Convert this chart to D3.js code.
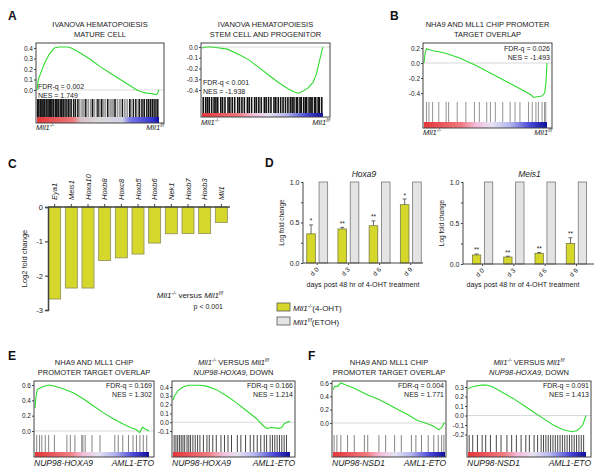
<!DOCTYPE html>
<html>
<head>
<meta charset="utf-8">
<script src="https://cdn.jsdelivr.net/npm/d3@7"></script>
<style>
  body { margin: 0; background: #fff; }
  svg { font-family: "Liberation Sans", Arial, sans-serif; }
</style>
</head>
<body>
<svg id="fig" width="602" height="475"></svg>
<script>
// ---- data ----

// panel C
const genes = ['Eya1', 'Meis1', 'Hoxa10', 'Hoxb8', 'Hoxc8', 'Hoxb5', 'Hoxb6', 'Nek1', 'Hoxb7', 'Hoxb3', 'Mll1'];
const log2fc = [-2.68, -2.36, -2.36, -1.56, -1.48, -1.37, -1.05, -0.78, -0.77, -0.77, -0.45];

// panel D
const days = ['d 0', 'd 3', 'd 6', 'd 9'];
const hoxa9KO = [0.36, 0.42, 0.46, 0.72];
const hoxa9Err = [0.11, 0.02, 0.06, 0.07];
const hoxa9Ctrl = [1, 1, 1, 1];
const hoxa9Stars = ['*', '**', '**', '*'];
const meis1KO = [0.11, 0.085, 0.13, 0.25];
const meis1Err = [0.012, 0.01, 0.01, 0.07];
const meis1Ctrl = [1, 1, 1, 1];
const meis1Stars = ['**', '**', '**', '**'];

// GSEA running enrichment scores: [rank fraction, ES]
const esMature = [[0,0],[0.011,0.1],[0.033,0.17],[0.06,0.25],[0.1,0.34],[0.141,0.4],[0.182,0.41],[0.249,0.41],
  [0.282,0.4],[0.358,0.35],[0.439,0.29],[0.52,0.22],[0.602,0.16],[0.683,0.1],[0.764,0.04],[0.818,0],
  [0.859,-0.02],[0.9,-0.03],[0.94,-0.035],[0.976,-0.045],[0.986,-0.035],[1,0]];
const esStem = [[0,-0.01],[0.033,0],[0.074,0],[0.114,-0.005],[0.21,-0.02],[0.305,-0.07],[0.387,-0.12],[0.469,-0.19],
  [0.55,-0.26],[0.632,-0.33],[0.714,-0.39],[0.768,-0.42],[0.8,-0.43],[0.837,-0.41],[0.877,-0.38],[0.918,-0.33],
  [0.946,-0.25],[0.973,-0.12],[0.992,-0.03],[1,0]];
const esNha9 = [[0,0],[0.008,0.12],[0.019,0.19],[0.041,0.18],[0.081,0.16],[0.122,0.15],[0.176,0.13],[0.23,0.1],
  [0.284,0.07],[0.338,0.03],[0.419,-0.03],[0.5,-0.1],[0.581,-0.17],[0.662,-0.24],[0.743,-0.31],[0.811,-0.37],
  [0.865,-0.42],[0.892,-0.46],[0.919,-0.45],[0.959,-0.44],[0.981,-0.4],[0.992,-0.25],[1,0]];
const esE1 = [[0,0.3],[0.009,0.45],[0.02,0.54],[0.044,0.56],[0.073,0.58],[0.117,0.6],[0.16,0.59],[0.204,0.57],
  [0.248,0.55],[0.335,0.5],[0.423,0.42],[0.51,0.33],[0.598,0.24],[0.685,0.16],[0.773,0.09],[0.845,0.04],
  [0.889,0.02],[0.918,-0.02],[0.942,0.05],[0.962,0.03],[0.977,0.02],[1,0]];
const esE2 = [[0,0.25],[0.014,0.3],[0.043,0.36],[0.086,0.4],[0.129,0.42],[0.229,0.42],[0.286,0.41],[0.371,0.37],
  [0.457,0.3],[0.543,0.22],[0.629,0.13],[0.714,0.04],[0.771,-0.04],[0.8,-0.07],[0.843,-0.06],[0.9,-0.07],
  [0.929,-0.06],[0.949,-0.02],[0.971,0],[1,0.01]];
const esF1 = [[0,0.5],[0.015,0.55],[0.039,0.55],[0.069,0.6],[0.1,0.58],[0.145,0.55],[0.19,0.52],[0.251,0.47],
  [0.311,0.42],[0.402,0.36],[0.492,0.28],[0.583,0.2],[0.674,0.12],[0.749,0.04],[0.825,0],[0.9,-0.05],
  [0.946,-0.1],[0.97,-0.07],[0.991,0],[1,0]];
const esF2 = [[0,0.28],[0.028,0.3],[0.071,0.31],[0.113,0.32],[0.156,0.32],[0.212,0.3],[0.297,0.24],[0.382,0.18],
  [0.467,0.11],[0.552,0.04],[0.637,-0.03],[0.722,-0.1],[0.807,-0.15],[0.878,-0.17],[0.921,-0.16],[0.949,-0.13],
  [0.972,-0.1],[0.986,-0.05],[1,0]];

// gene-set hit positions (rank fraction); "grey" = paler hits in the barcode
const hitsMature = [0.005,0.015,0.028,0.04,0.05,0.062,0.075,0.09,0.1,0.11,0.122,0.135,0.15,0.162,0.175,0.19,0.2,
  0.215,0.23,0.245,0.26,0.28,0.3,0.315,0.335,0.4,0.455,0.5,0.53,0.58,0.64,0.7,0.76,0.79,0.81,0.84,0.86,0.88,0.9,
  0.915,0.93,0.945,0.96,0.975,0.99];
const hitsMatureGrey = [0.01,0.045,0.08,0.12,0.17,0.21,0.27,0.35,0.37,0.385,0.42,0.44,0.47,0.49,0.515,0.545,0.56,
  0.6,0.615,0.63,0.66,0.68,0.72,0.74,0.77,0.83,0.87];
const hitsStem = [0.01,0.03,0.045,0.06,0.08,0.1,0.115,0.13,0.155,0.17,0.19,0.215,0.23,0.25,0.27,0.295,0.31,0.33,
  0.35,0.375,0.39,0.41,0.435,0.45,0.47,0.49,0.515,0.53,0.55,0.57,0.595,0.61,0.63,0.65,0.67,0.69,0.71,0.73,0.745,
  0.76,0.78,0.79,0.81,0.82,0.84,0.855,0.865,0.885,0.9,0.91,0.93,0.94,0.96,0.97,0.99];
const hitsNha9 = [0.02,0.04,0.07,0.12,0.18,0.2,0.27,0.34,0.41,0.45,0.51,0.54,0.58,0.64,0.7,0.74,0.78,0.85,0.88,
  0.91,0.93,0.96,0.98,0.99];
const hitsE1 = [0.015,0.04,0.06,0.09,0.12,0.17,0.28,0.31,0.35,0.41,0.42,0.44,0.5,0.57,0.7,0.73,0.77,0.82,0.86,
  0.89,0.92,0.95,0.98];
const hitsE2 = [0.01,0.025,0.04,0.055,0.07,0.085,0.1,0.12,0.135,0.15,0.17,0.19,0.21,0.23,0.26,0.29,0.31,0.34,
  0.37,0.41,0.44,0.47,0.5,0.55,0.58,0.62,0.66,0.69,0.72,0.75,0.78,0.8,0.83,0.85,0.87,0.89,0.91,0.93,0.95,0.97];
const hitsF1 = [0.01,0.035,0.07,0.13,0.19,0.28,0.31,0.41,0.47,0.55,0.61,0.7,0.74,0.79,0.85,0.9,0.94,0.97,0.99];
const hitsF2 = [0.01,0.04,0.08,0.12,0.15,0.19,0.24,0.28,0.33,0.37,0.41,0.45,0.49,0.52,0.56,0.59,0.62,0.64,0.66,
  0.68,0.7,0.72,0.74,0.76,0.78,0.8,0.82,0.84,0.86,0.88,0.9,0.92,0.94,0.96,0.98];

// ---- drawing ----
const svg = d3.select('#fig');
const FONT = 6.5;
const fmt = d => d3.format('.1f')(d).replace('\u2212', '-');

// colour bar gradients (red -> white -> blue)
const defs = svg.append('defs');
function gradient(id, stops) {
  const gr = defs.append('linearGradient').attr('id', id);
  stops.forEach(s => gr.append('stop').attr('offset', s[0]).attr('stop-color', s[1]));
}
gradient('rb', [['0', '#e3363a'], ['0.3', '#f07a7e'], ['0.42', '#f2bcd8'], ['0.55', '#e6e2f2'],
  ['0.7', '#b4b4ee'], ['0.86', '#4a4ad8'], ['1', '#10109a']]);
gradient('rbA', [['0', '#e3363a'], ['0.3', '#ec7a7c'], ['0.36', '#d9c4c8'], ['0.5', '#d8d8d8'],
  ['0.7', '#d2d2e6'], ['0.76', '#7a7ae6'], ['0.95', '#3434d0'], ['1', '#10109a']]);

// text with italic / superscript pieces: parts = [[string, 'i'|'s'|'is'|''], ...]
function rich(g, x, y, parts, size, anchor) {
  const t = g.append('text').attr('x', x).attr('y', y)
    .attr('font-size', size).attr('text-anchor', anchor || 'start').attr('fill', '#222');
  let up = false;
  parts.forEach(([s, st]) => {
    const sp = t.append('tspan').text(s);
    if (st.includes('i')) sp.attr('font-style', 'italic');
    if (st.includes('s')) {
      sp.attr('font-size', size * 0.62);
      if (!up) { sp.attr('dy', -size * 0.38); up = true; }
    } else if (up) { sp.attr('dy', size * 0.38); up = false; }
  });
  return t;
}

function letter(x, y, s) {
  svg.append('text').attr('x', x).attr('y', y).attr('font-size', 12)
    .attr('font-weight', 'bold').attr('fill', '#111').text(s);
}

const KO = [['Mll1', 'i'], ['-/-', 'is']];
const FF = [['Mll1', 'i'], ['f/f', 'is']];

function gsea(c) {
  const g = svg.append('g');
  const x = d3.scaleLinear().domain([0, 1]).range([c.cx0, c.cx1]);
  const y = d3.scaleLinear().domain(c.dom).range([c.yHit, c.y0]);

  g.append('rect').attr('x', c.x0).attr('y', c.y0).attr('width', c.x1 - c.x0)
    .attr('height', c.y1 - c.y0).attr('fill', '#fff');
  g.append('line').attr('x1', c.x0).attr('x2', c.x1).attr('y1', y(0)).attr('y2', y(0))
    .attr('stroke', '#c8c8c8').attr('stroke-width', 0.7);

  if (c.hitsGrey) {
    g.selectAll('.hitg').data(c.hitsGrey).join('line').attr('class', 'hitg')
      .attr('x1', d => x(d)).attr('x2', d => x(d))
      .attr('y1', c.yHit).attr('y2', c.yBar)
      .attr('stroke', '#9a9a9a').attr('stroke-width', 1.8);
  }
  g.selectAll('.hit').data(c.hits).join('line').attr('class', 'hit')
    .attr('x1', d => x(d)).attr('x2', d => x(d))
    .attr('y1', c.yHit).attr('y2', c.yBar)
    .attr('stroke', c.hitColor).attr('stroke-width', c.hitWidth);

  g.append('rect').attr('x', c.cx0).attr('y', c.yBar).attr('width', c.cx1 - c.cx0)
    .attr('height', c.y1 - c.yBar).attr('fill', `url(#${c.grad || 'rb'})`);

  g.append('path').datum(c.es)
    .attr('d', d3.line().x(d => x(d[0])).y(d => y(d[1])))
    .attr('fill', 'none').attr('stroke', '#2edc2e').attr('stroke-width', 1.1);

  const ax = g.append('g').attr('transform', `translate(${c.x0},0)`)
    .call(d3.axisLeft(y).tickValues(c.ticks).tickSize(2).tickPadding(1).tickFormat(fmt));
  ax.select('.domain').remove();
  ax.selectAll('line').attr('stroke', '#444');
  ax.selectAll('text').attr('font-size', FONT).attr('font-family', 'Liberation Sans, Arial').attr('fill', '#222');

  g.append('rect').attr('x', c.x0).attr('y', c.y0).attr('width', c.x1 - c.x0)
    .attr('height', c.y1 - c.y0).attr('fill', 'none').attr('stroke', '#444').attr('stroke-width', 1);

  const mid = (c.x0 + c.x1) / 2;
  rich(g, mid, c.y0 - 16, c.title[0], 7.5, 'middle');
  rich(g, mid, c.y0 - 6, c.title[1], 7.5, 'middle');

  const sx = c.statRight ? c.x1 - 2 : c.x0 + 2;
  const anchor = c.statRight ? 'end' : 'start';
  g.append('text').attr('x', sx).attr('y', c.statY).attr('text-anchor', anchor)
    .attr('font-size', 7).attr('fill', '#222').text(c.stats[0]);
  g.append('text').attr('x', sx).attr('y', c.statY + 8.5).attr('text-anchor', anchor)
    .attr('font-size', 7).attr('fill', '#222').text(c.stats[1]);

  rich(g, c.x0, c.y1 + c.labDy, c.labels[0], c.labSize, 'start');
  rich(g, c.x1, c.y1 + c.labDy, c.labels[1], c.labSize, 'end');
}

// ---- panel A ----
letter(8, 20, 'A');
gsea({ x0: 36, x1: 164, cx0: 37, cx1: 159, y0: 43, yHit: 99, yBar: 117, y1: 123,
  dom: [-0.086, 0.448], ticks: [0, 0.1, 0.2, 0.3, 0.4], es: esMature, hits: hitsMature,
  hitsGrey: hitsMatureGrey, hitColor: '#151515', hitWidth: 1.5, grad: 'rbA',
  title: [[['IVANOVA HEMATOPOIESIS', '']], [['MATURE CELL', '']]],
  stats: ['FDR-q = 0.002', 'NES = 1.749'], statRight: false, statY: 89,
  labels: [KO, FF], labSize: 7.5, labDy: 7 });
gsea({ x0: 201, x1: 330, cx0: 202, cx1: 323, y0: 43, yHit: 97, yBar: 113, y1: 117,
  dom: [-0.465, 0.037], ticks: [0, -0.1, -0.2, -0.3, -0.4], es: esStem, hits: hitsStem,
  hitColor: '#111', hitWidth: 1.6,
  title: [[['IVANOVA HEMATOPOIESIS', '']], [['STEM CELL AND PROGENITOR', '']]],
  stats: ['FDR-q < 0.001', 'NES = -1.938'], statRight: false, statY: 85,
  labels: [KO, FF], labSize: 7.5, labDy: 8 });

// ---- panel B ----
letter(390, 20, 'B');
gsea({ x0: 423, x1: 552, cx0: 424, cx1: 547, y0: 43, yHit: 102, yBar: 122, y1: 128,
  dom: [-0.52, 0.267], ticks: [0.2, 0, -0.2, -0.4], es: esNha9, hits: hitsNha9,
  hitColor: '#777', hitWidth: 0.8,
  title: [[['NHA9 AND MLL1 CHIP PROMOTER', '']], [['TARGET OVERLAP', '']]],
  stats: ['FDR-q = 0.026', 'NES = -1.493'], statRight: true, statY: 51,
  labels: [KO, FF], labSize: 7.5, labDy: 7 });

// ---- panel E / F ----
const NHA9T = [[['NHA9 AND MLL1 CHIP', '']], [['PROMOTER TARGET OVERLAP', '']]];
const VST = [[['Mll1', 'i'], ['-/-', 'is'], [' VERSUS ', ''], ['Mll1', 'i'], ['f/f', 'is']],
             [['NUP98-HOXA9', 'i'], [', DOWN', '']]];
letter(8, 360, 'E');
gsea({ x0: 34, x1: 154, cx0: 35, cx1: 149, y0: 381, yHit: 435, yBar: 452, y1: 457,
  dom: [-0.052, 0.652], ticks: [0, 0.2, 0.4, 0.6], es: esE1, hits: hitsE1,
  hitColor: '#666', hitWidth: 0.8, title: NHA9T,
  stats: ['FDR-q = 0.169', 'NES = 1.302'], statRight: true, statY: 388,
  labels: [[['NUP98-HOXA9', 'i']], [['AML1-ETO', 'i']]], labSize: 8.5, labDy: 9 });
gsea({ x0: 172, x1: 295, cx0: 173, cx1: 290, y0: 381, yHit: 435, yBar: 452, y1: 457,
  dom: [-0.145, 0.468], ticks: [-0.1, 0, 0.1, 0.2, 0.3, 0.4], es: esE2, hits: hitsE2,
  hitColor: '#333', hitWidth: 0.9, title: VST,
  stats: ['FDR-q = 0.166', 'NES = 1.214'], statRight: true, statY: 388,
  labels: [[['NUP98-HOXA9', 'i']], [['AML1-ETO', 'i']]], labSize: 8.5, labDy: 9 });

letter(308, 360, 'F');
gsea({ x0: 332, x1: 446, cx0: 333, cx1: 445, y0: 381, yHit: 435, yBar: 452, y1: 457,
  dom: [-0.18, 0.63], ticks: [0, 0.2, 0.4, 0.6], es: esF1, hits: hitsF1,
  hitColor: '#666', hitWidth: 0.8, title: NHA9T,
  stats: ['FDR-q = 0.004', 'NES = 1.771'], statRight: true, statY: 388,
  labels: [[['NUP98-NSD1', 'i']], [['AML1-ETO', 'i']]], labSize: 8.5, labDy: 9 });
gsea({ x0: 467, x1: 591, cx0: 468, cx1: 586, y0: 381, yHit: 435, yBar: 452, y1: 457,
  dom: [-0.205, 0.363], ticks: [-0.2, -0.1, 0, 0.1, 0.2, 0.3], es: esF2, hits: hitsF2,
  hitColor: '#333', hitWidth: 0.9, title: VST,
  stats: ['FDR-q = 0.091', 'NES = 1.413'], statRight: true, statY: 388,
  labels: [[['NUP98-NSD1', 'i']], [['AML1-ETO', 'i']]], labSize: 8.5, labDy: 9 });

// ---- panel C ----
letter(8, 168, 'C');
{
  const g = svg.append('g');
  const x = d3.scaleBand().domain(genes).range([44, 232]).padding(0.28);
  const y = d3.scaleLinear().domain([-3, 0]).range([310, 207]);

  g.selectAll('rect').data(genes).join('rect')
    .attr('x', d => x(d)).attr('width', x.bandwidth())
    .attr('y', y(0)).attr('height', (d, i) => y(log2fc[i]) - y(0))
    .attr('fill', '#d5d82b').attr('stroke', '#8c8c5a').attr('stroke-width', 0.8);

  const ya = g.append('g').attr('transform', 'translate(48,0)')
    .call(d3.axisLeft(y).ticks(3).tickSize(3).tickPadding(2).tickFormat(d => String(d).replace('\u2212', '-')));
  ya.select('.domain').attr('stroke', '#444').attr('stroke-width', 1.5);
  ya.selectAll('line').attr('stroke', '#444').attr('stroke-width', 1.2);
  ya.selectAll('text').attr('font-size', 7.5).attr('fill', '#222');

  const xa = g.append('g').attr('transform', `translate(0,${y(0)})`)
    .call(d3.axisTop(x).tickSize(3).tickSizeOuter(0).tickFormat(''));
  xa.select('.domain').attr('stroke', '#444').attr('stroke-width', 1.5).attr('d', 'M48,0H230');
  xa.selectAll('line').attr('stroke', '#444').attr('stroke-width', 1);

  g.selectAll('.glab').data(genes).join('text').attr('class', 'glab')
    .attr('transform', d => `translate(${x(d) + x.bandwidth() / 2 + 2.5},200) rotate(-90)`)
    .attr('font-size', 7.5).attr('font-style', 'italic').attr('fill', '#222').text(d => d);

  g.append('text').attr('transform', `translate(27,${(y(0) + y(-3)) / 2}) rotate(-90)`)
    .attr('text-anchor', 'middle').attr('font-size', 7.5).attr('fill', '#222').text('Log2 fold change');

  rich(g, 223, 298, [['Mll1', 'i'], ['-/-', 'is'], [' versus ', ''], ['Mll1', 'i'], ['f/f', 'is']], 8, 'end');
  g.append('text').attr('x', 223).attr('y', 309).attr('text-anchor', 'end')
    .attr('font-size', 7).attr('fill', '#222').text('p < 0.001');
}

// ---- panel D ----
letter(265, 167, 'D');
function barPanel(c) {
  const g = svg.append('g');
  const x = d3.scaleBand().domain(days).range(c.xr).paddingInner(c.pi).paddingOuter(c.po);
  const sub = d3.scaleBand().domain(['ko', 'ctrl']).range([0, x.bandwidth()]).paddingInner(0.3);
  const y = d3.scaleLinear().domain([0, 1]).range([c.yb, c.yt]);

  g.selectAll('.ctrl').data(days).join('rect').attr('class', 'ctrl')
    .attr('x', d => x(d) + sub('ctrl')).attr('width', sub.bandwidth())
    .attr('y', (d, i) => y(c.ctrl[i])).attr('height', (d, i) => y(0) - y(c.ctrl[i]))
    .attr('fill', '#e4e4e4').attr('stroke', '#777').attr('stroke-width', 0.8);
  g.selectAll('.ko').data(days).join('rect').attr('class', 'ko')
    .attr('x', d => x(d) + sub('ko')).attr('width', sub.bandwidth())
    .attr('y', (d, i) => y(c.ko[i])).attr('height', (d, i) => y(0) - y(c.ko[i]))
    .attr('fill', '#d5d82b').attr('stroke', '#7c7c40').attr('stroke-width', 0.8);

  const cx = d => x(d) + sub('ko') + sub.bandwidth() / 2;
  g.selectAll('.err').data(days).join('path').attr('class', 'err')
    .attr('d', (d, i) => {
      const t = y(c.ko[i] + c.err[i]);
      return `M${cx(d)},${y(c.ko[i])}V${t}M${cx(d) - 2},${t}H${cx(d) + 2}`;
    })
    .attr('stroke', '#444').attr('stroke-width', 0.8).attr('fill', 'none');
  g.selectAll('.star').data(days).join('text').attr('class', 'star')
    .attr('x', d => cx(d)).attr('y', (d, i) => y(c.ko[i] + c.err[i]) - 1.5)
    .attr('text-anchor', 'middle').attr('font-size', 6.5).attr('fill', '#222')
    .text((d, i) => c.stars[i]);

  const ya = g.append('g').attr('transform', `translate(${c.xr[0]},0)`)
    .call(d3.axisLeft(y).tickValues([0, 0.25, 0.5, 0.75, 1]).tickSize(2).tickPadding(1.5)
      .tickFormat(d => (d * 2) % 1 === 0 ? d3.format('.1f')(d) : ''));
  ya.select('.domain').attr('stroke', '#444').attr('d', `M0,${c.yt}V${c.yb}`);
  ya.selectAll('line').attr('stroke', '#444');
  ya.selectAll('text').attr('font-size', 7).attr('fill', '#222');

  const xa = g.append('g').attr('transform', `translate(0,${c.yb})`)
    .call(d3.axisBottom(x).tickSize(2).tickSizeOuter(0));
  xa.select('.domain').attr('stroke', '#444').attr('d', `M${c.xr[0]},0H${c.xr[1] - 2}`);
  xa.selectAll('line').attr('stroke', '#444');
  xa.selectAll('text').attr('font-size', 6.5).attr('fill', '#222')
    .attr('text-anchor', 'end').attr('dy', 0).attr('y', 0)
    .attr('transform', 'translate(2,7) rotate(-45)');

  g.append('text').attr('x', (c.xr[0] + c.xr[1]) / 2).attr('y', c.yt - 5)
    .attr('text-anchor', 'middle').attr('font-size', 8.5).attr('font-style', 'italic')
    .attr('fill', '#222').text(c.title);
  g.append('text').attr('x', c.xr[0] + 60).attr('y', 287).attr('text-anchor', 'middle')
    .attr('font-size', 7.2).attr('fill', '#222').text('days post 48 hr of 4-OHT treatment');
  g.append('text').attr('transform', `translate(${c.xr[0] - 19},${(c.yt + c.yb) / 2}) rotate(-90)`)
    .attr('text-anchor', 'middle').attr('font-size', 6.5).attr('fill', '#222').text('Log fold change');
}
barPanel({ xr: [303, 425], pi: 0.33, po: 0.12, yt: 182, yb: 263, title: 'Hoxa9',
  ko: hoxa9KO, err: hoxa9Err, ctrl: hoxa9Ctrl, stars: hoxa9Stars });
barPanel({ xr: [463, 596], pi: 0.35, po: 0.3, yt: 182, yb: 264, title: 'Meis1',
  ko: meis1KO, err: meis1Err, ctrl: meis1Ctrl, stars: meis1Stars });

// legend
{
  const g = svg.append('g');
  g.append('rect').attr('x', 277).attr('y', 303).attr('width', 13).attr('height', 8)
    .attr('fill', '#d5d82b').attr('stroke', '#555').attr('stroke-width', 0.8);
  g.append('rect').attr('x', 277).attr('y', 317).attr('width', 13).attr('height', 8)
    .attr('fill', '#e4e4e4').attr('stroke', '#555').attr('stroke-width', 0.8);
  rich(g, 293, 311, [['Mll1', 'i'], ['-/-', 'is'], ['(4-OHT)', '']], 8, 'start');
  rich(g, 293, 325, [['Mll1', 'i'], ['f/f', 'is'], ['(ETOH)', '']], 8, 'start');
}
</script>
</body>
</html>
